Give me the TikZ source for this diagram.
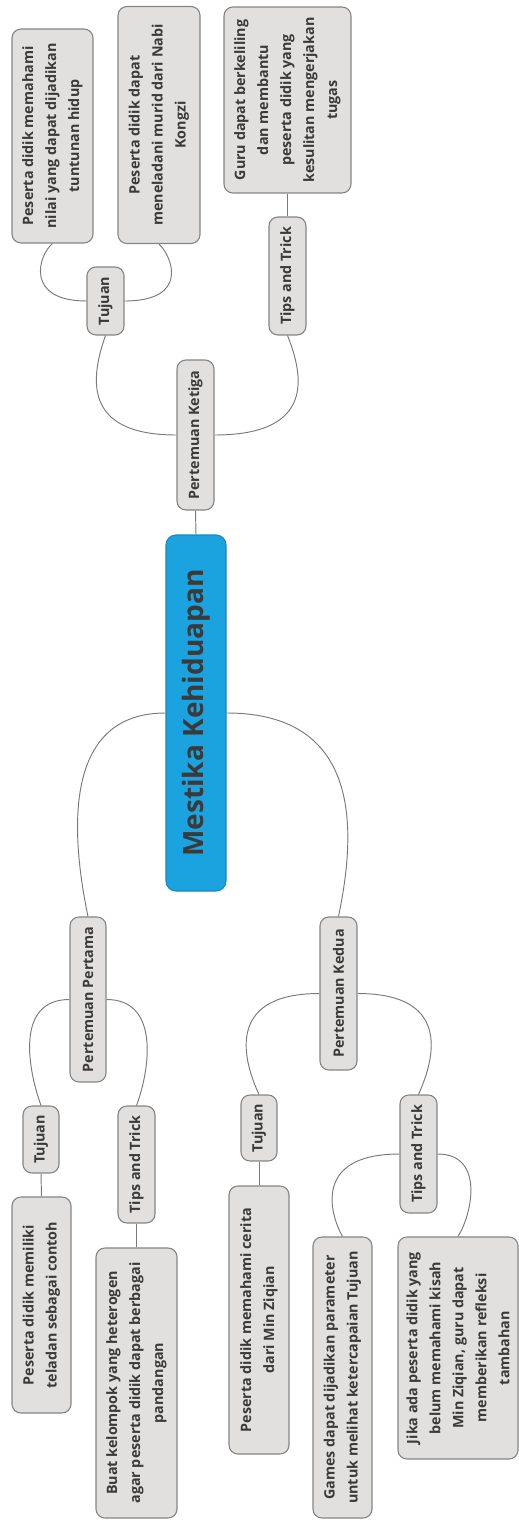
\documentclass[tikz,border=0pt]{standalone}
\usepackage{fontspec}
\usetikzlibrary{calc}
\newfontfamily\topicfont{Open Sans}
\newfontfamily\titlefont{Open Sans}
\definecolor{nodegray}{HTML}{E2E0DF}
\definecolor{edgegray}{HTML}{858585}
\definecolor{linkgray}{HTML}{7A7A7A}
\definecolor{txt}{HTML}{3A3A3A}
\definecolor{rootblue}{HTML}{1BA3DF}
\definecolor{rootedge}{HTML}{1789BE}
\begin{document}
\begin{tikzpicture}[x=1pt,y=-1pt,
  topic/.style={draw=edgegray, line width=1.1pt, fill=nodegray, rounded corners=9pt,
    rotate=90, inner sep=0pt, text=txt, align=center,
    font=\topicfont\bfseries\fontsize{14.3}{23}\selectfont},
  size/.style 2 args={minimum width=#1, minimum height=#2},
  rootnode/.style={draw=rootedge, line width=1.1pt, fill=rootblue, rounded corners=10pt,
    rotate=90, inner sep=0pt, text=txt,
    font=\titlefont\bfseries\fontsize{28}{33}\selectfont},
  link/.style={draw=linkgray, line width=0.95pt}]
\fill[white] (0,0) rectangle (519,1520);
\useasboundingbox (0,0) rectangle (519,1520);

% central topic
\node[rootnode, size={356}{60}] (root) at (196,713) {Mestika Kehiduapan};

% Pertemuan Ketiga branch
\node[topic, size={150}{37}] (p3) at (195.5,435) {Pertemuan Ketiga};
\node[topic, size={68}{37}] (t3) at (105.5,301) {Tujuan};
\node[topic, size={118}{37}] (k3) at (287.5,276) {Tips and Trick};
\node[topic, size={214}{81}] (la) at (52.5,136)
  {Peserta didik memahami\\nilai yang dapat dijadikan\\tuntunan hidup};
\node[topic, size={237}{82}] (lb) at (159,125)
  {Peserta didik dapat\\meneladani murid dari Nabi\\Kongzi};
\node[topic, size={186}{127}] (lc) at (287.5,100)
  {Guru dapat berkeliling\\dan membantu\\peserta didik yang\\kesulitan mengerjakan\\tugas};

% Pertemuan Pertama branch
\node[topic, size={165}{36}] (pp) at (88,999.5) {Pertemuan Pertama};
\node[topic, size={67}{36}] (tp) at (41,1139.5) {Tujuan};
\node[topic, size={117}{37}] (kp) at (136.5,1164.5) {Tips and Trick};
\node[topic, size={216}{59}] (ld) at (41.5,1305)
  {Peserta didik memiliki\\teladan sebagai contoh};
\node[topic, size={270}{81}] (le) at (136.5,1383)
  {Buat kelompok yang heterogen\\agar peserta didik dapat berbagai\\pandangan};

% Pertemuan Kedua branch
\node[topic, size={153}{37}] (pk) at (338.5,993.5) {Pertemuan Kedua};
\node[topic, size={66}{36}] (tk) at (259,1128) {Tujuan};
\node[topic, size={118}{37}] (kk) at (418.5,1154) {Tips and Trick};
\node[topic, size={268}{60}] (lf) at (259,1320)
  {Peserta didik memahami cerita\\dari Min Ziqian};
\node[topic, size={281}{59}] (lg) at (342.5,1377.5)
  {Games dapat dijadikan parameter\\untuk melihat ketercapaian Tujuan};
\node[topic, size={222}{120}] (lh) at (458,1348)
  {Jika ada peserta didik yang\\belum memahami kisah\\Min Ziqian, guru dapat\\memberikan refleksi\\tambahan};

% connectors from the central topic
\draw[link] (root.east) -- (p3.west);
\draw[link] (root.north) .. controls ($(root.north -| pp.east)+(-28,0)$) and ($(pp.east)+(-16,-77)$) .. (pp.east);
\draw[link] (root.south) .. controls ($(root.south -| pk.east)+(28,0)$) and ($(pk.east)+(16,-77)$) .. (pk.east);

% Pertemuan Ketiga connectors
\draw[link] (p3.north) .. controls ($(p3.north -| t3.west)+(-25,0)$) and ($(t3.west)+(-14,40)$) .. (t3.west);
\draw[link] (p3.south) .. controls ($(p3.south -| k3.west)+(28,0)$) and ($(k3.west)+(16,40)$) .. (k3.west);
\draw[link] (t3.north) .. controls ($(t3.north -| la.west)+(-27.5,0)$) and ($(la.west)+(-14.5,12)$) .. (la.west);
\draw[link] (t3.south) .. controls ($(t3.south -| lb.west)+(31,0)$) and ($(lb.west)+(13,12)$) .. (lb.west);
\draw[link] (k3.east) -- (lc.west);

% Pertemuan Pertama connectors
\draw[link] (pp.north) .. controls ($(pp.north -| tp.east)+(-26,0)$) and ($(tp.east)+(-13,-36)$) .. (tp.east);
\draw[link] (pp.south) .. controls ($(pp.south -| kp.east)+(23.5,0)$) and ($(kp.east)+(13.5,-36)$) .. (kp.east);
\draw[link] (tp.west) -- (ld.east);
\draw[link] (kp.west) -- (le.east);

% Pertemuan Kedua connectors
\draw[link] (pk.north) .. controls ($(pk.north -| tk.east)+(-37,0)$) and ($(tk.east)+(-14,-30)$) .. (tk.east);
\draw[link] (pk.south) .. controls ($(pk.south -| kk.east)+(37.5,0)$) and ($(kk.east)+(13.5,-30)$) .. (kk.east);
\draw[link] (tk.west) -- (lf.east);
\draw[link] (kk.north) .. controls ($(kk.north -| lg.east)+(-30,0)$) and ($(lg.east)+(-12.5,-22)$) .. (lg.east);
\draw[link] (kk.south) .. controls ($(kk.south -| lh.east)+(27,0)$) and ($(lh.east)+(14,-22)$) .. (lh.east);
\end{tikzpicture}
\end{document}
